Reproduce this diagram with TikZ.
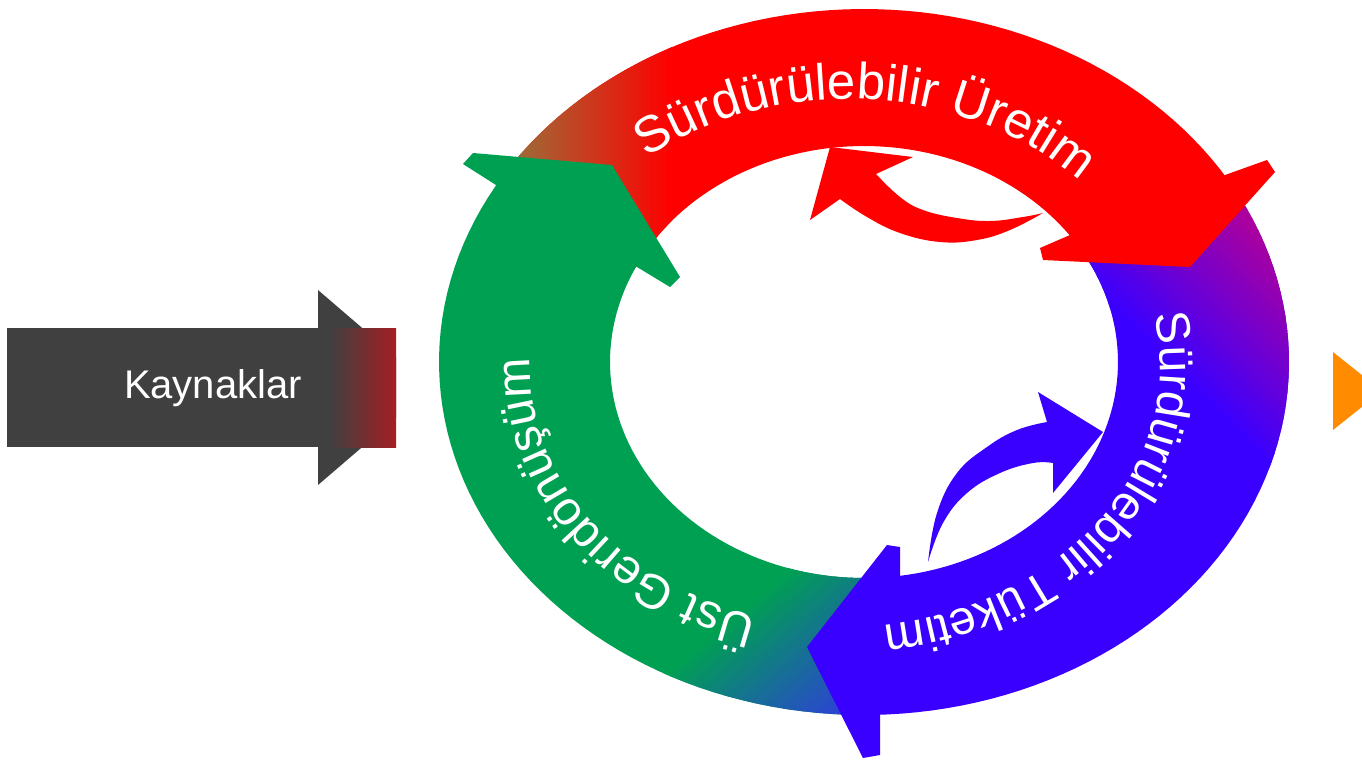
\documentclass[tikz,border=0pt]{standalone}
\usepackage{fontspec}
\setmainfont{Liberation Sans}
\usetikzlibrary{decorations.text}

\definecolor{cycred}{RGB}{255,0,0}
\definecolor{cycblue}{RGB}{58,0,255}
\definecolor{cycgreen}{RGB}{0,160,82}
\definecolor{cycolive}{RGB}{150,115,60}
\definecolor{cycmagenta}{RGB}{180,0,150}
\definecolor{cycteal}{RGB}{45,65,215}
\definecolor{srcgrey}{RGB}{64,64,64}
\definecolor{srcred}{RGB}{165,30,35}
\definecolor{outorange}{RGB}{255,140,0}

\newcommand\ringlabel{\color{white}\fontsize{24}{28}\selectfont}
\newcommand\ringlabeltop{\color{white}\fontsize{25.5}{28}\selectfont}
% one segment of the elliptic ring: #1 path options, #2..#3 outer angles, #4..#5 inner angles
\newcommand\band[5]{\path[#1]
  plot[domain=#2:#3, samples=60, variable=\t] ({864+425*cos(\t)},{362+353*sin(\t)})
  -- plot[domain=#5:#4, samples=60, variable=\t] ({864+254*cos(\t)},{362+216*sin(\t)})
  -- cycle;}
% stepped colour ramp along the local x axis: #1 start colour, #2 end colour, #3 length
\newcommand\ramp[3]{%
  \fill[#1] (-150,-320) rectangle (0.6,320);
  \foreach \i in {0,...,39}{%
    \pgfmathsetmacro\p{100*\i/39}%
    \fill[#2!\p!#1] ({\i*#3/40},-320) rectangle ({(\i+1)*#3/40+0.6},320);
  }}

\tikzset{
  ringtext/.style={decorate, decoration={text along path, text align=center, text={|\ringlabel|#1}}},
  ringtexttop/.style={decorate, decoration={text along path, text align=center, text={|\ringlabeltop|#1}}}
}

\begin{document}
\begin{tikzpicture}[x=0.5pt,y=-0.5pt]
\useasboundingbox (0,0) rectangle (1362,762);

% resources arrow on the left
\fill[srcgrey] (318,290) -- (396,357) -- (396,418) -- (318,485) -- cycle;
\fill[srcgrey] (7,328) rectangle (396,447);
\shade[left color=srcgrey, right color=srcred] (330,328) rectangle (396,447);
\node[text=white, font=\fontsize{20}{24}\selectfont] (src) at (213,388) {Kaynaklar};

% outgoing arrow at the right edge
\begin{scope}
  \clip (0,0) rectangle (1362,762);
  \fill[outorange] (1333,352) -- (1382,391) -- (1333,430) -- cycle;
\end{scope}

% production segment
\band{fill=cycred}{210}{331}{206}{328}
\begin{scope}
  \band{clip}{210}{331}{206}{328}
  \fill[cycolive] (400,0) rectangle (506,400);
  \shade[left color=cycolive, right color=cycred] (505,0) rectangle (672,400);
\end{scope}

% consumption segment
\band{fill=cycblue}{-30}{91}{-33}{86}
\begin{scope}
  \band{clip}{-30}{91}{-33}{86}
  \begin{scope}[shift={(1245,195)}, rotate=225]
    \ramp{cycmagenta}{cycblue}{175}
  \end{scope}
\end{scope}

% upcycling segment
\band{fill=cycgreen}{90}{212}{85}{208}
\begin{scope}
  \band{clip}{90}{212}{85}{208}
  \begin{scope}[shift={(838,722)}, rotate=130]
    \ramp{cycteal}{cycgreen}{150}
  \end{scope}
\end{scope}

% arrow heads of the ring
\fill[cycgreen] (496,185) -- (463,164) -- (473,153) -- (612,165) -- (680,277) -- (670,287) -- (637,267) -- cycle;
\fill[cycred] (1225,175) -- (1267,160) -- (1275,172) -- (1190,267) -- (1043,260) -- (1040,248) -- (1070,235) -- cycle;
\fill[cycblue] (900,576) -- (900,547) -- (887,545) -- (807,647) -- (863,758) -- (880,755) -- (880,715) -- cycle;

% small inner arrows
\fill[cycred] plot[smooth, tension=0.7] coordinates {(1043,213) (1010,230) (977,240) (940,242) (900,233) (867,217) (840,199)}
  -- (810,220) -- (830,147) -- (913,157)
  -- plot[smooth, tension=0.7] coordinates {(876,174) (900,197) (923,210) (957,218) (990,221) (1023,217) (1043,213)} -- cycle;
\fill[cycblue] plot[smooth, tension=0.7] coordinates {(928,562) (937,513) (957,473) (987,447) (1017,430) (1047,422)}
  -- (1038,392) -- (1103,432) -- (1053,493)
  -- plot[smooth, tension=0.7] coordinates {(1053,463) (1033,463) (1000,473) (967,493) (943,523) (928,562)} -- cycle;

% labels along the ring
\path[ringtexttop={Sürdürülebilir Üretim}]
  plot[domain=-150:-22, samples=150, variable=\t] ({848+322*cos(\t)},{367+268*sin(\t)});
\path[ringtext={Sürdürülebilir Tüketim}]
  plot[domain=-36:104, samples=150, variable=\t] ({845+315*cos(\t)},{367+260*sin(\t)});
\path[ringtext={Üst Geridönüşüm}]
  plot[domain=86:206, samples=150, variable=\t] ({845+315*cos(\t)},{367+260*sin(\t)});
\end{tikzpicture}
\end{document}
